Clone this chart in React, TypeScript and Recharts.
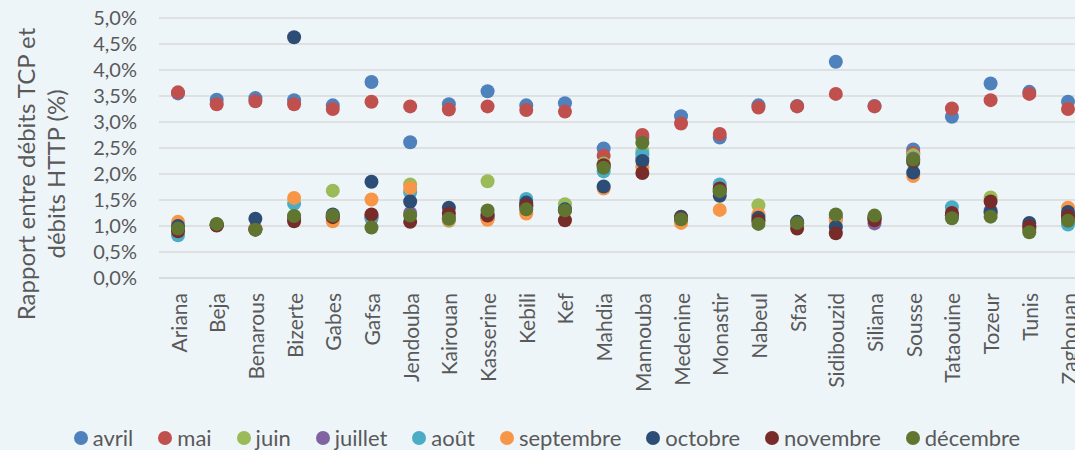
import { CartesianGrid, ComposedChart, Legend, Line, XAxis, YAxis } from "recharts";

const categories = [
  "Ariana", "Beja", "Benarous", "Bizerte", "Gabes", "Gafsa", "Jendouba", "Kairouan",
  "Kasserine", "Kebili", "Kef", "Mahdia", "Mannouba", "Medenine", "Monastir", "Nabeul",
  "Sfax", "Sidibouzid", "Siliana", "Sousse", "Tataouine", "Tozeur", "Tunis", "Zaghouan",
];

const avril = [3.55, 3.43, 3.46, 3.42, 3.32, 3.77, 2.61, 3.34, 3.59, 3.32, 3.36, 2.49, 2.7, 3.11, 2.7, 3.32, 3.31, 4.16, 3.31, 2.47, 3.1, 3.74, 3.58, 3.39];
const mai = [3.57, 3.34, 3.4, 3.34, 3.25, 3.39, 3.3, 3.24, 3.3, 3.23, 3.2, 2.35, 2.75, 2.97, 2.77, 3.28, 3.3, 3.54, 3.3, 2.4, 3.26, 3.42, 3.54, 3.25];
const juin = [1.0, 1.03, 0.95, 1.2, 1.68, 1.2, 1.8, 1.1, 1.86, 1.35, 1.42, 2.2, 2.45, 1.12, 1.7, 1.4, 1.05, 1.2, 1.18, 2.36, 1.2, 1.55, 0.95, 1.2];
const juillet = [0.95, 1.02, 0.95, 1.15, 1.18, 1.15, 1.25, 1.15, 1.15, 1.38, 1.3, 2.15, 2.3, 1.15, 1.65, 1.1, 1.05, 1.15, 1.05, 2.3, 1.2, 1.3, 0.95, 1.15];
const aout = [0.82, 1.03, 0.95, 1.43, 1.15, 1.17, 1.65, 1.12, 1.15, 1.52, 1.32, 2.05, 2.38, 1.15, 1.8, 1.2, 1.08, 1.0, 1.15, 2.22, 1.36, 1.25, 1.0, 1.03];
const septembre = [1.08, 1.03, 0.95, 1.54, 1.09, 1.51, 1.73, 1.12, 1.12, 1.24, 1.3, 1.72, 2.13, 1.06, 1.31, 1.22, 1.05, 1.1, 1.15, 1.96, 1.2, 1.25, 0.95, 1.35];
const octobre = [1.0, 1.02, 1.14, 4.63, 1.22, 1.85, 1.47, 1.35, 1.22, 1.45, 1.32, 1.76, 2.25, 1.18, 1.58, 1.16, 1.08, 0.98, 1.15, 2.03, 1.2, 1.27, 1.06, 1.27];
const novembre = [0.9, 1.01, 0.93, 1.09, 1.17, 1.22, 1.08, 1.24, 1.2, 1.4, 1.11, 2.17, 2.02, 1.15, 1.72, 1.1, 0.95, 0.86, 1.11, 2.25, 1.25, 1.47, 0.99, 1.19];
const decembre = [0.95, 1.04, 0.93, 1.19, 1.2, 0.97, 1.2, 1.14, 1.3, 1.32, 1.3, 2.12, 2.6, 1.13, 1.67, 1.04, 1.06, 1.22, 1.2, 2.28, 1.15, 1.18, 0.88, 1.1];

const yTicks = [0, 0.5, 1, 1.5, 2, 2.5, 3, 3.5, 4, 4.5, 5];

const series = [
  { key: "avril", values: avril, color: "#4F81BD" },
  { key: "mai", values: mai, color: "#C0504D" },
  { key: "juin", values: juin, color: "#9BBB59" },
  { key: "juillet", values: juillet, color: "#8064A2" },
  { key: "août", values: aout, color: "#4BACC6" },
  { key: "septembre", values: septembre, color: "#F79646" },
  { key: "octobre", values: octobre, color: "#2C4D75" },
  { key: "novembre", values: novembre, color: "#772C2A" },
  { key: "décembre", values: decembre, color: "#5F7530" },
];

const data = categories.map((name, i) => {
  const row: Record<string, string | number> = { name };
  series.forEach((s) => (row[s.key] = s.values[i]));
  return row;
});

const FONT = "Lato, 'Open Sans', sans-serif";
const TEXT = "#595959";

const fmt = (v: number) => v.toFixed(1).replace(".", ",") + "%";

function XTick({ x, y, payload }: any) {
  return (
    <text
      transform={`translate(${x},${y + 7}) rotate(-90)`}
      textAnchor="end"
      dominantBaseline="central"
      fontSize={21}
      fontFamily={FONT}
      fill={TEXT}
    >
      {payload.value}
    </text>
  );
}

function YTitle() {
  return (
    <g fontFamily={FONT} fontSize={24} fill={TEXT} textAnchor="middle">
      <text transform="translate(25,174) rotate(-90)" dominantBaseline="central">
        Rapport entre débits TCP et
      </text>
      <text transform="translate(55,174) rotate(-90)" dominantBaseline="central">
        débits HTTP (%)
      </text>
    </g>
  );
}

function LegendBox() {
  return (
    <div
      style={{
        display: "flex",
        justifyContent: "center",
        alignItems: "center",
        fontFamily: FONT,
        fontSize: 22,
        color: TEXT,
        lineHeight: "26px",
      }}
    >
      {series.map((s, i) => (
        <span
          key={s.key}
          style={{ display: "flex", alignItems: "center", marginRight: i < series.length - 1 ? 25 : 0 }}
        >
          <span
            style={{
              width: 14,
              height: 14,
              borderRadius: 7,
              background: s.color,
              marginRight: 5,
              display: "inline-block",
            }}
          />
          {s.key}
        </span>
      ))}
    </div>
  );
}

export default function App() {
  return (
    <div
      style={{
        position: "fixed",
        left: 0,
        top: 0,
        width: 1075,
        height: 450,
        overflow: "hidden",
        background: "#EEF5F9",
      }}
    >
      <ComposedChart
        width={1087}
        height={450}
        data={data}
        margin={{ top: 18, right: 0, left: 0, bottom: 30 }}
      >
        <CartesianGrid vertical={false} stroke="#D9D9D9" strokeWidth={1.5} />
        <XAxis
          dataKey="name"
          interval={0}
          tick={<XTick />}
          tickLine={false}
          axisLine={{ stroke: "#D9D9D9", strokeWidth: 1.5 }}
          padding={{ left: 19, right: 19 }}
          height={142}
        />
        <YAxis
          domain={[0, 5]}
          ticks={yTicks}
          interval={0}
          tickFormatter={fmt}
          width={159}
          tickLine={false}
          axisLine={false}
          tickMargin={16}
          tick={{ fontSize: 20, fill: TEXT, fontFamily: FONT }}
          label={<YTitle />}
        />
        <Legend
          layout="horizontal"
          verticalAlign="middle"
          align="center"
          content={<LegendBox />}
          wrapperStyle={{ top: 425, left: 0, width: 1094 }}
        />
        {series.map((s) => (
          <Line
            key={s.key}
            dataKey={s.key}
            name={s.key}
            stroke={s.color}
            strokeWidth={0}
            legendType="circle"
            dot={{ r: 7, fill: s.color, stroke: "none", fillOpacity: 1 }}
            activeDot={false}
            isAnimationActive={false}
          />
        ))}
      </ComposedChart>
    </div>
  );
}
